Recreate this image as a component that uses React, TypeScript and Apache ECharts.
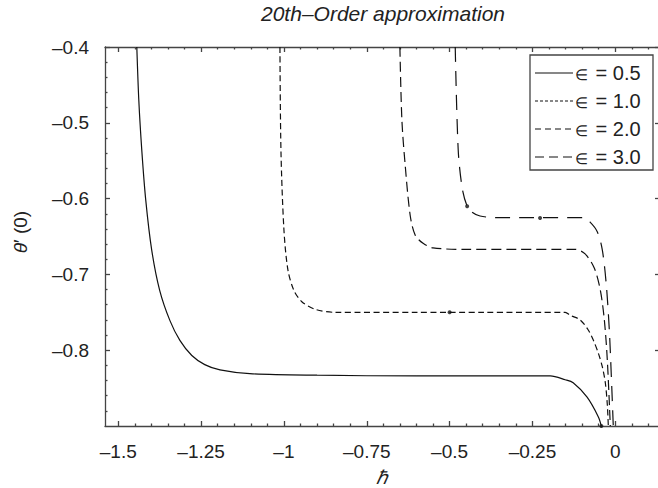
import React, { useEffect, useRef } from "react";
import * as echarts from "echarts";

const FONT = "'Liberation Sans', Arial, Helvetica, sans-serif";

const xMajorTicks = [-1.5, -1.25, -1, -0.75, -0.5, -0.25, 0];
const xMinorTicks = [-1.45, -1.4, -1.35, -1.3, -1.2, -1.15, -1.1, -1.05, -0.95, -0.9, -0.85, -0.8, -0.7, -0.65, -0.6, -0.55, -0.45, -0.4, -0.35, -0.3, -0.2, -0.15, -0.1, -0.05, 0.05, 0.1];
const yMajorTicks = [-0.8, -0.7, -0.6, -0.5, -0.4];
const yMinorTicks = [-0.88, -0.86, -0.84, -0.82, -0.78, -0.76, -0.74, -0.72, -0.68, -0.66, -0.64, -0.62, -0.58, -0.56, -0.54, -0.52, -0.48, -0.46, -0.44, -0.42];

const seriesNames = ["∈ = 0.5", "∈ = 1.0", "∈ = 2.0", "∈ = 3.0"];
const epsValues = ["0.5", "1.0", "2.0", "3.0"];

const eps05: [number, number][] = [
  [-1.444, -0.4], [-1.438, -0.47], [-1.429, -0.536], [-1.417, -0.602], [-1.399, -0.668],
  [-1.375, -0.721], [-1.344, -0.761], [-1.314, -0.787], [-1.278, -0.807], [-1.239, -0.819],
  [-1.193, -0.826], [-1.103, -0.831], [-0.9, -0.833], [-0.6, -0.834], [-0.3, -0.834],
  [-0.196, -0.834], [-0.151, -0.839], [-0.127, -0.843], [-0.085, -0.862], [-0.051, -0.888], [-0.042, -0.9],
];
const eps10: [number, number][] = [
  [-1.012, -0.4], [-1.009, -0.536], [-1.0, -0.641], [-0.988, -0.694], [-0.97, -0.721],
  [-0.946, -0.736], [-0.906, -0.746], [-0.846, -0.75], [-0.6, -0.75], [-0.4, -0.75],
  [-0.151, -0.75], [-0.136, -0.754], [-0.106, -0.76], [-0.082, -0.773], [-0.066, -0.787],
  [-0.051, -0.804], [-0.039, -0.822], [-0.03, -0.843], [-0.024, -0.872], [-0.021, -0.9],
];
const eps20: [number, number][] = [
  [-0.65, -0.4], [-0.644, -0.496], [-0.634, -0.556], [-0.619, -0.622], [-0.604, -0.648],
  [-0.58, -0.659], [-0.55, -0.665], [-0.45, -0.667], [-0.3, -0.667], [-0.121, -0.667],
  [-0.091, -0.673], [-0.063, -0.692], [-0.045, -0.721], [-0.033, -0.76], [-0.024, -0.813], [-0.015, -0.9],
];
const eps30: [number, number][] = [
  [-0.483, -0.4], [-0.474, -0.536], [-0.462, -0.586], [-0.447, -0.61], [-0.432, -0.618],
  [-0.408, -0.623], [-0.363, -0.625], [-0.25, -0.625], [-0.097, -0.625], [-0.076, -0.631],
  [-0.054, -0.644], [-0.039, -0.668], [-0.027, -0.714], [-0.018, -0.773], [-0.012, -0.833], [-0.006, -0.9],
];
const markerDots: [number, number][] = [[-0.447, -0.61], [-0.227, -0.6256], [-0.5, -0.75], [-0.042, -0.9]];

const plotDashes: any[] = ["solid", [6, 3.5], [10, 5], [15, 9]];
const legendDashes: any[] = [null, [3, 2], [6, 4], [9, 5]];

const fmt = (v: number) => (v === 0 ? "0" : (v < 0 ? "–" : "") + String(Math.abs(v)));

export default function App() {
  const ref = useRef<HTMLDivElement>(null);
  useEffect(() => {
    if (!ref.current) return;
    const chart = echarts.init(ref.current, undefined, { renderer: "svg" });
    const axisColor = "#444";
    const lineStyle = { color: axisColor, width: 1.3 };
    const xMin = -1.54, xMax = 0.135, yMin = -0.9, yMax = -0.4;
    const xBase = (pos: string) => ({
      type: "value", position: pos, min: xMin, max: xMax,
      splitLine: { show: false },
    });
    const yBase = (pos: string) => ({
      type: "value", position: pos, min: yMin, max: yMax,
      splitLine: { show: false },
    });
    const lineColor = "#111";
    const mk = (i: number, data: [number, number][]) => ({
      name: seriesNames[i], type: "line", data, xAxisIndex: 0, yAxisIndex: 0,
      symbol: "none", showSymbol: false, smooth: 0.3,
      lineStyle: { color: lineColor, width: 1.2, type: plotDashes[i] },
      itemStyle: { color: lineColor },
    });
    const legendX = 530, legendY = 55, rowH = 28;
    const legendGraphics: any[] = [
      {
        type: "rect", shape: { x: legendX, y: legendY, width: 123, height: 115 },
        style: { fill: "#fff", stroke: axisColor, lineWidth: 1.3 },
      },
    ];
    epsValues.forEach((val, i) => {
      const cy = legendY + 18 + i * rowH;
      legendGraphics.push({
        type: "line", shape: { x1: legendX + 5, y1: cy, x2: legendX + 43, y2: cy },
        style: { stroke: lineColor, lineWidth: 1.2, lineDash: legendDashes[i] },
      });
      legendGraphics.push({
        type: "text", x: legendX + 45, y: cy,
        style: {
          text: "{e|∈} = " + val, fontSize: 20, fontFamily: FONT, fill: "#222", align: "left", verticalAlign: "middle",
          rich: { e: { fontSize: 15, fontFamily: FONT, fill: "#222", padding: [3, 2, 0, 0] } },
        },
      });
    });
    chart.setOption({
      animation: false,
      backgroundColor: "#fff",
      grid: { left: 105, top: 47, width: 555, height: 379, outerBoundsMode: "none" },
      xAxis: [
        {
          ...xBase("bottom"),
          axisLine: { show: true, onZero: false, lineStyle },
          axisTick: { show: true, inside: true, length: 5, customValues: xMajorTicks, lineStyle },
          axisLabel: { customValues: xMajorTicks, formatter: fmt, fontSize: 19, fontFamily: FONT, color: "#222", margin: 16 },
        },
        {
          ...xBase("bottom"),
          axisLine: { show: false, onZero: false },
          axisTick: { show: true, inside: true, length: 2.5, customValues: xMinorTicks, lineStyle },
          axisLabel: { show: false },
        },
        {
          ...xBase("top"),
          axisLine: { show: true, onZero: false, lineStyle },
          axisTick: { show: true, inside: true, length: 5, customValues: xMajorTicks, lineStyle },
          axisLabel: { show: false },
        },
        {
          ...xBase("top"),
          axisLine: { show: false, onZero: false },
          axisTick: { show: true, inside: true, length: 2.5, customValues: xMinorTicks, lineStyle },
          axisLabel: { show: false },
        },
      ],
      yAxis: [
        {
          ...yBase("left"),
          axisLine: { show: true, onZero: false, lineStyle },
          axisTick: { show: true, inside: true, length: 5, customValues: yMajorTicks, lineStyle },
          axisLabel: { customValues: yMajorTicks, formatter: fmt, fontSize: 19, fontFamily: FONT, color: "#222", margin: 16 },
        },
        {
          ...yBase("left"),
          axisLine: { show: false, onZero: false },
          axisTick: { show: true, inside: true, length: 2.5, customValues: yMinorTicks, lineStyle },
          axisLabel: { show: false },
        },
        {
          ...yBase("right"),
          axisLine: { show: true, onZero: false, lineStyle },
          axisTick: { show: true, inside: true, length: 5, customValues: yMajorTicks, lineStyle },
          axisLabel: { show: false },
        },
      ],
      series: [
        mk(0, eps05),
        mk(1, eps10),
        mk(2, eps20),
        mk(3, eps30),
        {
          name: "dots", type: "scatter", data: markerDots, xAxisIndex: 0, yAxisIndex: 0,
          symbolSize: 4, itemStyle: { color: lineColor }, clip: false,
        },
      ],
      graphic: [
        {
          type: "text", x: 383, y: 13,
          style: { text: "20th–Order approximation", fontStyle: "italic", fontSize: 21, fontFamily: FONT, fill: "#222", align: "center", verticalAlign: "middle" },
        },
        {
          type: "text", x: 382, y: 477,
          style: { text: "ℏ", fontStyle: "italic", fontSize: 19, fontFamily: FONT, fill: "#222", align: "center", verticalAlign: "middle" },
        },
        {
          type: "text", x: 20, y: 232, rotation: Math.PI / 2,
          style: {
            text: "{i|θ}′ (0)", fontSize: 19, fontFamily: FONT, fill: "#222", align: "center", verticalAlign: "middle",
            rich: { i: { fontStyle: "italic", fontSize: 19, fontFamily: FONT, fill: "#222" } },
          },
        },
        ...legendGraphics,
      ],
    });
    return () => chart.dispose();
  }, []);
  return <div ref={ref} style={{ position: "fixed", left: 0, top: 0, width: 662, height: 488 }} />;
}
